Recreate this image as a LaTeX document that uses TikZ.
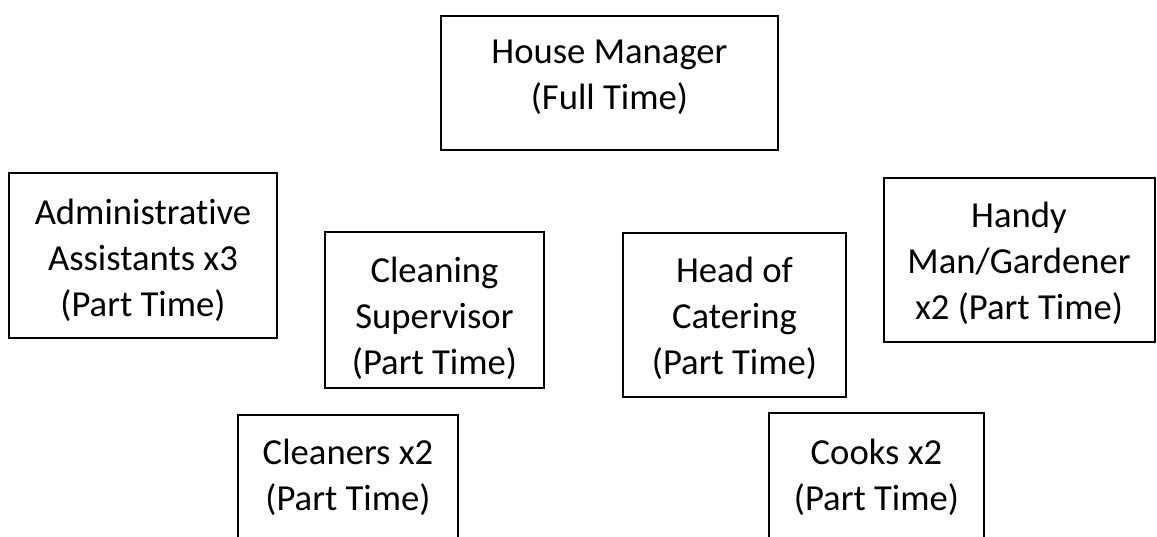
\documentclass[tikz,border=0pt]{standalone}
\usepackage{fontspec}
\setmainfont{Carlito}[Ligatures=NoCommon]

\tikzset{every picture/.style={line width=0.75pt}}
\tikzset{
  orgbox/.style={draw={rgb, 255:red, 0; green, 0; blue, 0 }, line width=1pt},
  orgtext/.style={align=center, inner sep=0.75pt, font=\fontsize{27.5}{34.5}\selectfont}
}

\begin{document}
\begin{tikzpicture}[x=0.75pt,y=0.75pt,yscale=-1,xscale=1]
\useasboundingbox (0,0) rectangle (1157,536);
\clip (0,0) rectangle (1157,536);

%Shape: Rectangle [id:manager]
\draw [orgbox] (441,16) rectangle (778,150) ;
%Shape: Rectangle [id:admin]
\draw [orgbox] (9,173) rectangle (277,338) ;
%Shape: Rectangle [id:cleansup]
\draw [orgbox] (325,232) rectangle (544,388) ;
%Shape: Rectangle [id:cateringhead]
\draw [orgbox] (623,233) rectangle (846,397) ;
%Shape: Rectangle [id:handyman]
\draw [orgbox] (884,178) rectangle (1155,342) ;
%Shape: Rectangle [id:cleaners]
\draw [orgbox] (238,415) rectangle (458,560) ;
%Shape: Rectangle [id:cooks]
\draw [orgbox] (769,413) rectangle (984,560) ;

% Text Node
\node [orgtext] (managertxt) at (609.5,77) {House Manager\\(Full Time)};
% Text Node
\node [orgtext] (admintxt) at (143,260) {Administrative\\Assistants x3\\(Part Time)};
% Text Node
\node [orgtext] (cleansuptxt) at (434.5,318) {Cleaning\\Supervisor\\(Part Time)};
% Text Node
\node [orgtext] (cateringtxt) at (734.5,318) {Head of\\Catering\\(Part Time)};
% Text Node
\node [orgtext] (handytxt) at (1019,263) {Handy\\Man/Gardener\\x2 (Part Time)};
% Text Node
\node [orgtext] (cleanerstxt) at (348,477) {Cleaners x2\\(Part Time)};
% Text Node
\node [orgtext] (cookstxt) at (876.5,477) {Cooks x2\\(Part Time)};

\end{tikzpicture}
\end{document}
